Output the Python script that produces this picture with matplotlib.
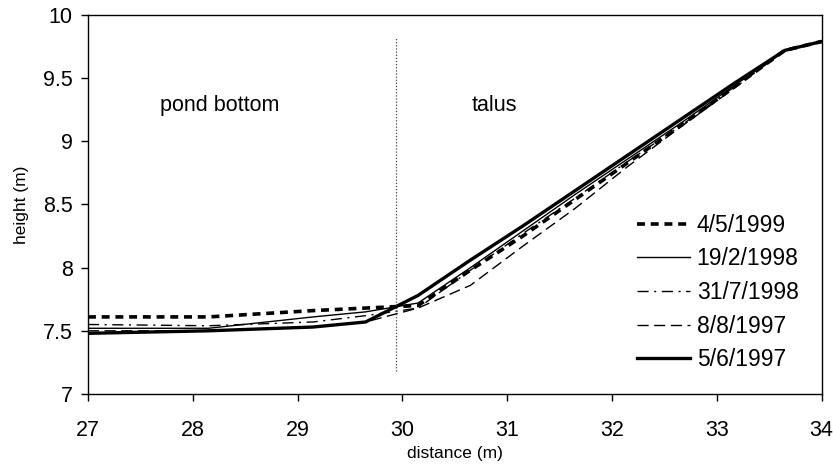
#!/usr/bin/env python3
import numpy as np
import matplotlib
matplotlib.use('Agg')
import matplotlib.pyplot as plt

plt.rcParams['font.family'] = ['Liberation Sans', 'DejaVu Sans']

# Distance along the profile (m)
distance = [27, 28.15, 29.15, 29.65, 30.15, 30.65, 31.15, 31.65,
            32.15, 32.65, 33.15, 33.65, 34]

# Heights (m) per survey date
h_4_5_1999 = [7.61, 7.61, 7.66, 7.68, 7.70, 7.98, 8.25, 8.54,
              8.83, 9.12, 9.42, 9.72, 9.79]
h_19_2_1998 = [7.52, 7.52, 7.61, 7.65, 7.72, 8.00, 8.29, 8.58,
               8.86, 9.14, 9.43, 9.72, 9.79]
h_31_7_1998 = [7.55, 7.54, 7.57, 7.62, 7.68, 7.98, 8.27, 8.55,
               8.84, 9.12, 9.42, 9.72, 9.79]
h_8_8_1997 = [7.50, 7.50, 7.53, 7.57, 7.68, 7.86, 8.17, 8.47,
              8.80, 9.11, 9.41, 9.72, 9.79]
h_5_6_1997 = [7.48, 7.50, 7.53, 7.57, 7.78, 8.06, 8.33, 8.61,
              8.89, 9.17, 9.45, 9.72, 9.79]

boundary_x = 29.94
zone_labels = ['pond bottom', 'talus']

fig = plt.figure(figsize=(8.33, 4.69), dpi=100)
ax = fig.add_axes([0.1056, 0.160, 0.8806, 0.808])

ax.plot(distance, h_4_5_1999, color='black', lw=2.6, dashes=(2.2, 1.6),
        label='4/5/1999')
ax.plot(distance, h_19_2_1998, color='black', lw=1.0, label='19/2/1998')
ax.plot(distance, h_31_7_1998, color='black', lw=1.0,
        dashes=(8, 4, 1.5, 4), label='31/7/1998')
ax.plot(distance, h_8_8_1997, color='black', lw=1.0, dashes=(8, 4),
        label='8/8/1997')
ax.plot(distance, h_5_6_1997, color='black', lw=2.4, label='5/6/1997')

# boundary between pond bottom and talus
ax.plot([boundary_x, boundary_x], [7.18, 9.82], color='#444444', lw=0.9,
        linestyle=(0, (1, 1.5)))

ax.text(27.69, 9.28, zone_labels[0], fontsize=15.5, va='center')
ax.text(30.66, 9.28, zone_labels[1], fontsize=15.5, va='center')

ax.set_xlim(27, 34)
ax.set_ylim(7, 10)
ax.set_xticks(np.arange(27, 35, 1))
ax.set_yticks(np.arange(7, 10.01, 0.5))
ax.set_yticklabels(['7', '7.5', '8', '8.5', '9', '9.5', '10'])
ax.tick_params(direction='out', length=5, width=1, labelsize=15.5)
ax.tick_params(axis='x', pad=14)
ax.tick_params(axis='y', pad=6)
for s in ax.spines.values():
    s.set_linewidth(1.0)
    s.set_color('black')

ax.set_xlabel('distance (m)', fontsize=12.5, labelpad=3)
ax.set_ylabel('height (m)', fontsize=12.5, labelpad=10)

ax.legend(loc='upper left', bbox_to_anchor=(0.7485, 0.475), frameon=False,
          fontsize=16.5, handlelength=2.3, handletextpad=0.3,
          labelspacing=0.46, borderaxespad=0, borderpad=0)

fig.savefig('out.png', dpi=100)
